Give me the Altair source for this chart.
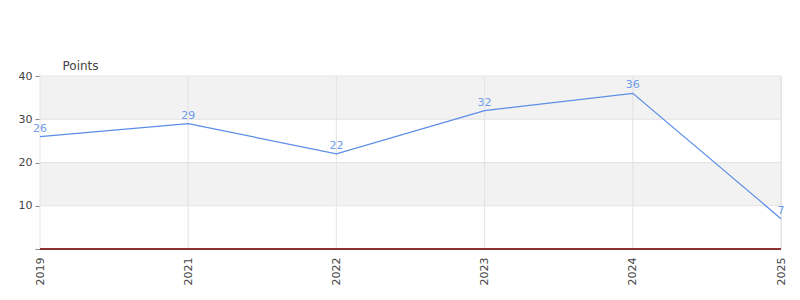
import altair as alt
import pandas as pd

years = ["2019", "2021", "2022", "2023", "2024", "2025"]
points = [26, 29, 22, 32, 36, 7]

band_lo = [0, 10, 20, 30]
band_hi = [10, 20, 30, 40]
band_fill = ["#ffffff", "#f2f2f2", "#ffffff", "#f2f2f2"]
grid_values = [10, 20, 30, 40]

df = pd.DataFrame({"year": years, "points": points})
bands = pd.DataFrame({"lo": band_lo, "hi": band_hi, "fill": band_fill})
grids = pd.DataFrame({"g": grid_values})

x_scale = alt.Scale(type="point", padding=0)
x_enc = alt.X("year:O", sort=years, scale=x_scale,
              axis=alt.Axis(title=None, labelAngle=-90, labelAlign="right", labelBaseline="middle",
                            grid=True, gridColor="#e3e3e3", domain=False, ticks=False,
                            labelColor="#444444", labelFontSize=11, labelPadding=8,
                            labelFont="DejaVu Sans"))

y_scale = alt.Scale(domain=[0, 40], nice=False)

band_layer = alt.Chart(bands).mark_rect().encode(
    y=alt.Y("lo:Q", scale=y_scale,
            axis=alt.Axis(title="Points", titleAngle=0, titleAlign="left", titleBaseline="bottom",
                          titleX=22, titleY=-4, titleFontWeight="normal", titleFontSize=12,
                          titleColor="#444444", titleFont="DejaVu Sans",
                          values=[0, 5, 10, 15, 20, 25, 30, 35, 40],
                          labelExpr="datum.value % 10 === 0 && datum.value > 0 ? datum.label : ''",
                          labelColor="#444444", labelFontSize=11, labelFont="DejaVu Sans",
                          labelPadding=3,
                          grid=False,
                          domainColor="#888888", tickColor="#888888", tickSize=5)),
    y2="hi:Q",
    x=alt.value(0),
    x2=alt.value(741),
    color=alt.Color("fill:N", scale=None),
)

grid_y = alt.Chart(grids).mark_rule(color="#e3e3e3").encode(
    y=alt.Y("g:Q", scale=y_scale), x=alt.value(0), x2=alt.value(741))

grid_x = alt.Chart(df).mark_rule(color="#e3e3e3").encode(x=x_enc)

zero_rule = alt.Chart(pd.DataFrame({"z": [0]})).mark_rule(color="#d42020", strokeWidth=2).encode(
    y=alt.Y("z:Q", scale=y_scale), x=alt.value(0), x2=alt.value(741))
axis_line = alt.Chart(pd.DataFrame({"z": [0]})).mark_rule(color="#444444", strokeWidth=1).encode(
    y=alt.Y("z:Q", scale=y_scale), x=alt.value(0), x2=alt.value(741))

line = alt.Chart(df).mark_line(color="#5b8de8", strokeWidth=1.2).encode(
    x=alt.X("year:O", sort=years, scale=x_scale),
    y=alt.Y("points:Q", scale=y_scale))

labels = alt.Chart(df).mark_text(color="#6f9cec", fontSize=11, dy=-8, font="DejaVu Sans").encode(
    x=alt.X("year:O", sort=years, scale=x_scale),
    y=alt.Y("points:Q", scale=y_scale),
    text="points:Q")

chart = alt.layer(band_layer, grid_y, grid_x, zero_rule, axis_line, line, labels).properties(
    width=741, height=173,
    padding={"left": 40, "top": 76, "right": 19, "bottom": 51},
    autosize=alt.AutoSizeParams(type="none"),
).configure_view(stroke=None)

chart.save("out.html", embed_options={"renderer": "svg", "actions": False})
